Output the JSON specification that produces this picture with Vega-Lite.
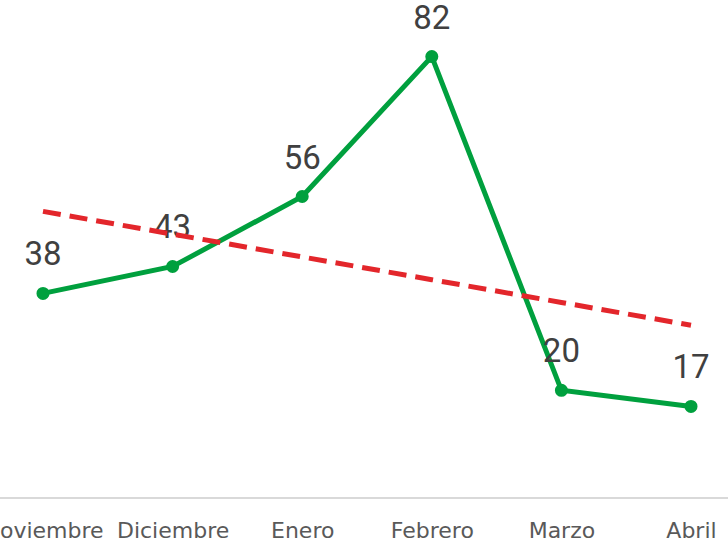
{
  "$schema": "https://vega.github.io/schema/vega-lite/v6.json",
  "width": 728,
  "height": 498,
  "autosize": {"type": "none"},
  "padding": {"left": 0, "top": 0, "right": 0, "bottom": 50},
  "background": "white",
  "config": {"view": {"stroke": null}},
  "data": {
    "values": [
      {"mes": "Noviembre", "valor": 38, "tendencia": 53.24},
      {"mes": "Diciembre", "valor": 43, "tendencia": 49.01},
      {"mes": "Enero", "valor": 56, "tendencia": 44.78},
      {"mes": "Febrero", "valor": 82, "tendencia": 40.55},
      {"mes": "Marzo", "valor": 20, "tendencia": 36.32},
      {"mes": "Abril", "valor": 17, "tendencia": 32.10}
    ]
  },
  "encoding": {
    "x": {
      "field": "mes",
      "type": "nominal",
      "sort": null,
      "scale": {"type": "point", "range": [43, 691], "padding": 0},
      "axis": {
        "title": null,
        "labelAngle": 0,
        "ticks": false,
        "grid": false,
        "domain": false,
        "labelFont": "DejaVu Sans",
        "labelFontSize": 22,
        "labelColor": "#595959",
        "labelPadding": 22,
        "labelOverlap": false,
        "labelBound": false,
        "labelFlush": false
      }
    }
  },
  "layer": [
    {
      "mark": {"type": "rule", "color": "#d9d9d9", "strokeWidth": 2},
      "encoding": {
        "x": null,
        "y": {"datum": 0, "type": "quantitative", "scale": {"domain": [0, 92.5], "nice": false}, "axis": null}
      }
    },
    {
      "mark": {"type": "line", "color": "#00a03e", "strokeWidth": 5},
      "encoding": {
        "y": {"field": "valor", "type": "quantitative", "scale": {"domain": [0, 92.5], "nice": false}, "axis": null}
      }
    },
    {
      "mark": {"type": "point", "filled": true, "color": "#00a03e", "opacity": 1, "size": 170},
      "encoding": {
        "y": {"field": "valor", "type": "quantitative"}
      }
    },
    {
      "mark": {"type": "text", "font": "Roboto", "fontSize": 33, "color": "#404040", "baseline": "middle", "dy": -38},
      "encoding": {
        "y": {"field": "valor", "type": "quantitative"},
        "text": {"field": "valor", "type": "quantitative"}
      }
    },
    {
      "mark": {"type": "line", "color": "#e3262b", "strokeWidth": 5, "strokeDash": [18, 9]},
      "encoding": {
        "y": {"field": "tendencia", "type": "quantitative"}
      }
    }
  ]
}
